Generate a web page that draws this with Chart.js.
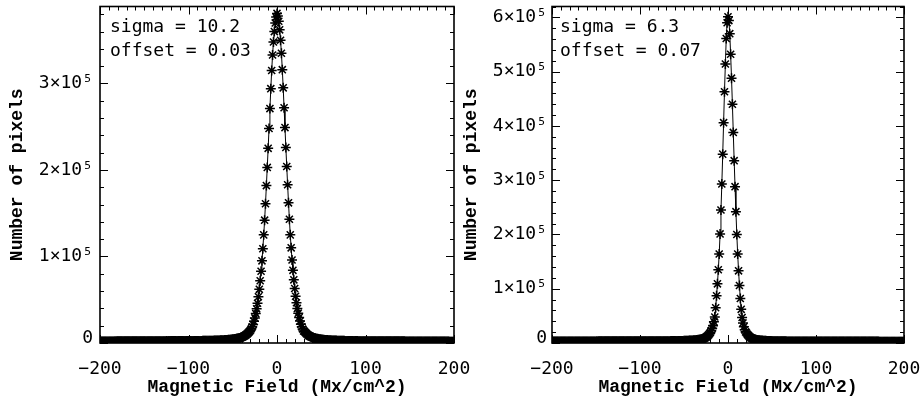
<!DOCTYPE html>
<html>
<head>
<meta charset="utf-8">
<script src="https://cdn.jsdelivr.net/npm/chart.js@4.4.0/dist/chart.umd.min.js"></script>
<style>
html, body { margin: 0; padding: 0; background: #fff; }
#wrap { position: relative; width: 922px; height: 405px; }
#wrap canvas { position: absolute; top: 0; left: 0; }
</style>
</head>
<body>
<div id="wrap">
  <canvas id="leftChart" width="922" height="405"></canvas>
  <canvas id="rightChart" width="922" height="405"></canvas>
</div>
<script>
// histogram bins: 1 Mx/cm^2 wide, first bin at -200
const binStart = -200;
const binWidth = 1;

const xTickValues = [-200, -100, 0, 100, 200];
const xTickLabels = ['\u2212200', '\u2212100', '0', '100', '200'];

const leftTickValues = [0, 100000, 200000, 300000];
const leftTickLabels = ['0', '1\u00d710\u2075', '2\u00d710\u2075', '3\u00d710\u2075'];
const rightTickValues = [0, 100000, 200000, 300000, 400000, 500000, 600000];
const rightTickLabels = ['0', '1\u00d710\u2075', '2\u00d710\u2075', '3\u00d710\u2075', '4\u00d710\u2075', '5\u00d710\u2075', '6\u00d710\u2075'];

const leftFitText = ['sigma = 10.2', 'offset = 0.03'];
const rightFitText = ['sigma = 6.3', 'offset = 0.07'];

// pixel counts per bin, -200 .. 200
const leftCounts = [
  1780, 1805, 1790, 1815, 1800, 1825, 1810, 1830, 1820, 1840,
  1830, 1850, 1840, 1860, 1850, 1870, 1860, 1880, 1875, 1890,
  1885, 1900, 1895, 1910, 1905, 1920, 1915, 1930, 1925, 1940,
  1935, 1950, 1945, 1960, 1955, 1970, 1965, 1980, 1975, 1990,
  1985, 2000, 1995, 2010, 2005, 2020, 2015, 2030, 2025, 2040,
  2035, 2050, 2045, 2060, 2055, 2070, 2065, 2080, 2075, 2090,
  2085, 2100, 2095, 2110, 2105, 2120, 2115, 2130, 2125, 2140,
  2135, 2150, 2145, 2160, 2155, 2170, 2165, 2175, 2170, 2185,
  2180, 2190, 2185, 2200, 2195, 2205, 2200, 2215, 2210, 2220,
  2215, 2225, 2220, 2230, 2225, 2235, 2230, 2240, 2235, 2245,
  2250, 2260, 2270, 2280, 2290, 2300, 2320, 2330, 2340, 2360,
  2370, 2390, 2400, 2420, 2440, 2450, 2470, 2490, 2510, 2530,
  2550, 2570, 2590, 2610, 2630, 2660, 2680, 2710, 2740, 2770,
  2800, 2830, 2870, 2910, 2950, 2990, 3040, 3090, 3140, 3200,
  3260, 3330, 3400, 3480, 3560, 3650, 3750, 3850, 3960, 4080,
  4200, 4350, 4500, 4700, 4900, 5100, 5300, 5600, 5900, 6200,
  6600, 7000, 7500, 8100, 8700, 9400, 10200, 11200, 12300, 13500,
  14800, 16500, 18800, 21500, 25000, 29000, 34000, 39500, 46000, 53500,
  62000, 72000, 83000, 95000, 109000, 125000, 142000, 161000, 182000, 203000,
  225000, 248000, 271000, 294000, 315000, 333000, 348000, 360000, 370000, 377000,
  381000,
  378000, 372000, 362000, 350000, 335000, 316000, 295000, 272000, 249000, 226000,
  204000, 183000, 162000, 143000, 125000, 110000, 96000, 84000, 73000, 63000,
  54000, 46500, 40000, 34500, 29500, 25300, 21800, 18800, 16200, 14000,
  13400, 12200, 11100, 10100, 9300, 8600, 8000, 7400, 6900, 6500,
  6100, 5800, 5500, 5200, 5000, 4800, 4600, 4400, 4250, 4100,
  3950, 3820, 3700, 3600, 3500, 3410, 3330, 3250, 3180, 3110,
  3050, 2990, 2930, 2880, 2830, 2790, 2750, 2710, 2670, 2640,
  2600, 2570, 2540, 2510, 2490, 2460, 2440, 2410, 2390, 2370,
  2350, 2330, 2310, 2290, 2270, 2250, 2240, 2220, 2200, 2190,
  2170, 2160, 2140, 2130, 2120, 2100, 2090, 2080, 2070, 2060,
  2050, 2040, 2045, 2035, 2040, 2030, 2035, 2025, 2030, 2020,
  2025, 2015, 2020, 2010, 2005, 2010, 2000, 1995, 2000, 1990,
  1985, 1990, 1980, 1975, 1970, 1975, 1965, 1960, 1955, 1950,
  1945, 1940, 1935, 1930, 1925, 1920, 1915, 1910, 1905, 1900,
  1895, 1890, 1885, 1880, 1875, 1870, 1865, 1860, 1855, 1850,
  1845, 1840, 1830, 1825, 1820, 1810, 1805, 1800, 1790, 1785,
  1780, 1770, 1765, 1760, 1750, 1745, 1740, 1730, 1725, 1720,
  1715, 1705, 1700, 1695, 1690, 1680, 1675, 1670, 1665, 1660,
  1655, 1650, 1645, 1640, 1635, 1630, 1625, 1620, 1615, 1610,
  1605, 1600, 1595, 1590, 1585, 1580, 1575, 1570, 1565, 1560
];

const rightCounts = [
  2790, 2810, 2800, 2820, 2805, 2825, 2815, 2830, 2820, 2840,
  2830, 2845, 2835, 2850, 2840, 2860, 2850, 2865, 2855, 2870,
  2865, 2880, 2870, 2885, 2880, 2895, 2890, 2905, 2900, 2910,
  2905, 2920, 2915, 2930, 2925, 2940, 2935, 2945, 2940, 2955,
  2950, 2960, 2955, 2970, 2965, 2975, 2970, 2985, 2980, 2990,
  2985, 2995, 2990, 3005, 3000, 3010, 3005, 3015, 3010, 3020,
  3020, 3030, 3025, 3035, 3030, 3040, 3040, 3050, 3045, 3055,
  3055, 3060, 3060, 3070, 3065, 3075, 3075, 3080, 3080, 3090,
  3090, 3095, 3095, 3100, 3100, 3105, 3105, 3110, 3110, 3115,
  3115, 3120, 3120, 3125, 3125, 3130, 3130, 3135, 3135, 3140,
  3140, 3145, 3150, 3155, 3160, 3165, 3170, 3175, 3180, 3185,
  3190, 3195, 3200, 3205, 3210, 3215, 3220, 3230, 3235, 3240,
  3250, 3260, 3270, 3280, 3290, 3300, 3315, 3330, 3345, 3360,
  3380, 3395, 3410, 3425, 3440, 3460, 3480, 3500, 3520, 3550,
  3580, 3610, 3640, 3670, 3700, 3740, 3780, 3820, 3860, 3900,
  3950, 4020, 4090, 4160, 4240, 4320, 4410, 4500, 4600, 4700,
  4800, 4950, 5100, 5250, 5400, 5600, 5800, 6050, 6300, 6600,
  7000, 7500, 8100, 8800, 9600, 10600, 11800, 13200, 15000, 17000,
  19500, 23000, 27000, 32000, 39000, 48000, 65000, 87000, 109000, 135000,
  164000, 201000, 245000, 293000, 348000, 406000, 463000, 514000, 561000, 590000,
  601000,
  594000, 570000, 532000, 488000, 440000, 388000, 336000, 288000, 242000, 200000,
  164000, 133000, 106000, 82000, 62000, 47000, 37000, 30000, 24500, 20500,
  18500, 16000, 14000, 12300, 10900, 9700, 8700, 7900, 7200, 6700,
  6300, 5900, 5600, 5350, 5100, 4900, 4700, 4550, 4400, 4270,
  4150, 4040, 3940, 3850, 3770, 3700, 3630, 3570, 3510, 3460,
  3410, 3370, 3330, 3290, 3260, 3230, 3200, 3170, 3140, 3120,
  3100, 3080, 3060, 3040, 3020, 3000, 2990, 2980, 2970, 2960,
  2950, 2940, 2930, 2920, 2910, 2900, 2890, 2880, 2870, 2865,
  2855, 2850, 2845, 2840, 2835, 2830, 2825, 2820, 2815, 2810,
  2805, 2800, 2800, 2795, 2795, 2790, 2790, 2785, 2785, 2780,
  2780, 2775, 2775, 2770, 2770, 2765, 2765, 2760, 2760, 2755,
  2755, 2750, 2750, 2745, 2740, 2740, 2735, 2730, 2730, 2725,
  2720, 2720, 2715, 2710, 2705, 2705, 2700, 2695, 2690, 2690,
  2685, 2680, 2675, 2675, 2670, 2665, 2660, 2660, 2655, 2650,
  2645, 2645, 2640, 2635, 2630, 2630, 2625, 2620, 2615, 2615,
  2610, 2605, 2600, 2600, 2595, 2590, 2585, 2585, 2580, 2575,
  2570, 2570, 2565, 2560, 2555, 2555, 2550, 2545, 2540, 2540,
  2535, 2530, 2525, 2525, 2520, 2515, 2510, 2510, 2505, 2500,
  2495, 2495, 2490, 2485, 2480, 2480, 2475, 2470, 2465, 2465,
  2460, 2455, 2450, 2450, 2445, 2440, 2435, 2435, 2430, 2425
];

const monoFont = 'DejaVu Sans Mono';
const titleFont = 'Liberation Mono';

function toPoints(counts) {
  return counts.map((c, i) => ({x: binStart + i * binWidth, y: c}));
}

// IDL style box: frame with inward ticks on all four sides, plus fit text
const framePlugin = {
  id: 'frame',
  beforeDatasetsDraw(chart) {
    const {ctx, chartArea: a, scales: {x, y}} = chart;
    ctx.save();
    ctx.strokeStyle = '#000';
    ctx.lineWidth = 1;
    ctx.beginPath();
    for (let v = x.min; v <= x.max; v += 10) {
      const px = Math.round(x.getPixelForValue(v)) + 0.5;
      const len = xTickValues.includes(v) ? 8 : 4;
      ctx.moveTo(px, a.bottom); ctx.lineTo(px, a.bottom - len);
      ctx.moveTo(px, a.top); ctx.lineTo(px, a.top + len);
    }
    const majors = chart.options.plugins.frame.majors;
    for (let v = 0; v <= y.max; v += 20000) {
      const py = Math.round(y.getPixelForValue(v)) + 0.5;
      const len = majors.includes(v) ? 8 : 4;
      ctx.moveTo(a.left, py); ctx.lineTo(a.left + len, py);
      ctx.moveTo(a.right, py); ctx.lineTo(a.right - len, py);
    }
    ctx.stroke();
    ctx.restore();
  },
  afterDraw(chart) {
    const {ctx, chartArea: a} = chart;
    const opts = chart.options.plugins.frame;
    ctx.save();
    ctx.strokeStyle = '#000';
    ctx.lineWidth = 1.6;
    ctx.strokeRect(a.left, a.top, a.right - a.left, a.bottom - a.top);
    ctx.fillStyle = '#000';
    ctx.font = '18px "' + monoFont + '"';
    ctx.textBaseline = 'alphabetic';
    opts.lines.forEach((t, i) => {
      ctx.fillText(t, a.left + opts.textIndent, a.top + 25 + i * 24);
    });
    ctx.restore();
  }
};

function makeChart(id, counts, cfg) {
  return new Chart(document.getElementById(id), {
    type: 'line',
    data: {
      datasets: [{
        data: toPoints(counts),
        borderColor: '#000',
        borderWidth: 1,
        tension: 0,
        pointStyle: 'star',
        pointRadius: 5,
        pointBorderWidth: 1.5,
        pointBorderColor: '#000',
        pointBackgroundColor: 'rgba(0,0,0,0)',
        clip: 0
      }]
    },
    options: {
      responsive: false,
      animation: false,
      events: [],
      layout: {padding: {left: cfg.padLeft, top: 4, right: cfg.padRight, bottom: 0}},
      plugins: {
        legend: {display: false},
        tooltip: {enabled: false},
        frame: {lines: cfg.fitText, majors: cfg.tickValues, textIndent: cfg.textIndent}
      },
      scales: {
        x: {
          type: 'linear',
          min: -200,
          max: 200,
          grid: {display: false, drawTicks: false},
          border: {display: false},
          afterBuildTicks: s => { s.ticks = xTickValues.map(v => ({value: v})); },
          ticks: {
            maxRotation: 0,
            autoSkip: false,
            padding: 16,
            color: '#000',
            font: {family: monoFont, size: 18},
            callback: v => {
              const i = xTickValues.indexOf(v);
              return i < 0 ? '' : xTickLabels[i];
            }
          },
          title: {
            display: true,
            text: 'Magnetic Field (Mx/cm^2)',
            color: '#000',
            font: {family: titleFont, size: 18, weight: 'bold'},
            padding: {top: 0, bottom: 7}
          },
          afterFit: s => { s.height = 62; s.paddingLeft = 0; s.paddingRight = 0; }
        },
        y: {
          type: 'linear',
          min: 0,
          max: cfg.yMax,
          grid: {display: false, drawTicks: false},
          border: {display: false},
          afterBuildTicks: s => { s.ticks = cfg.tickValues.map(v => ({value: v})); },
          ticks: {
            autoSkip: false,
            padding: cfg.tickPad,
            color: '#000',
            // the zero label sits a little above its tick, as in the original
            font: c => ({family: monoFont, size: 18,
              lineHeight: (c.tick && c.tick.value === 0) ? 0.55 : 1.2}),
            callback: v => {
              const i = cfg.tickValues.indexOf(v);
              if (i < 0) return '';
              return v === 0 ? [cfg.tickLabels[i], ''] : cfg.tickLabels[i];
            }
          },
          title: {
            display: true,
            text: 'Number of pixels',
            color: '#000',
            font: {family: titleFont, size: 18, weight: 'bold'},
            padding: {top: cfg.titlePad, bottom: 0}
          },
          afterFit: s => { s.width = cfg.yWidth; s.paddingTop = 0; s.paddingBottom = 0; }
        }
      }
    },
    plugins: [framePlugin]
  });
}

makeChart('leftChart', leftCounts, {
  yMax: 389000, tickValues: leftTickValues, tickLabels: leftTickLabels,
  fitText: leftFitText, yWidth: 100, padLeft: 0, padRight: 468, tickPad: 7, titlePad: 7, textIndent: 10
});
makeChart('rightChart', rightCounts, {
  yMax: 620000, tickValues: rightTickValues, tickLabels: rightTickLabels,
  fitText: rightFitText, yWidth: 91, padLeft: 461, padRight: 18, tickPad: 5, titlePad: 0, textIndent: 8
});
</script>
</body>
</html>
